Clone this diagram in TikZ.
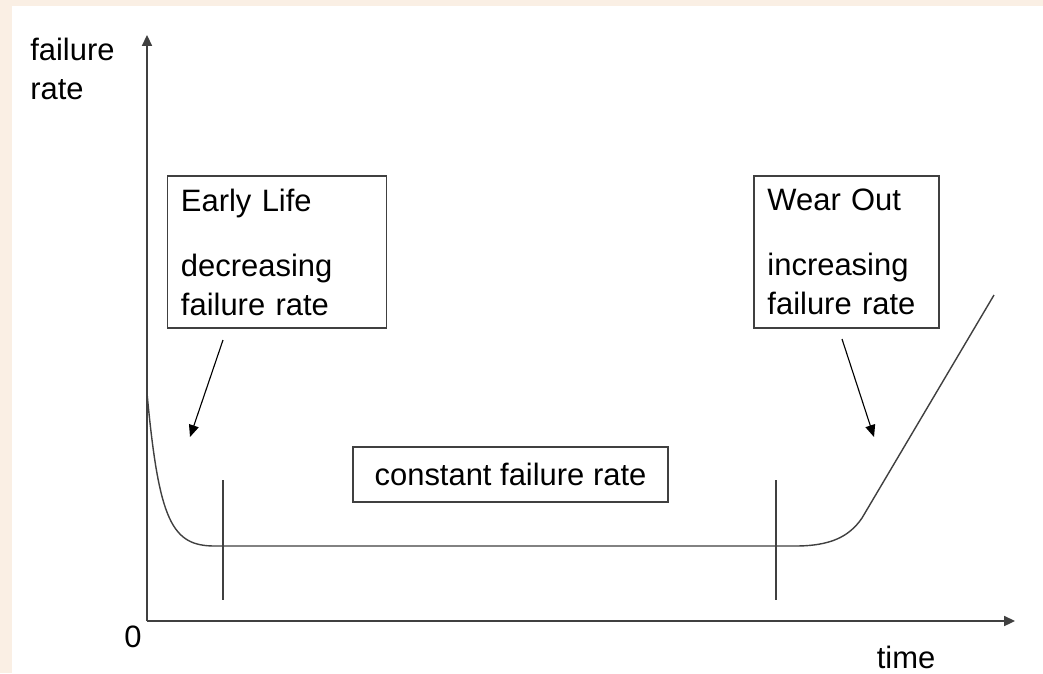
\documentclass[tikz,border=0pt]{standalone}
\usepackage{fontspec}
\setmainfont{Liberation Sans}
\usetikzlibrary{positioning,arrows.meta}
\definecolor{slidebg}{RGB}{250,239,228}
\definecolor{linegray}{RGB}{64,64,64}

\begin{document}
\begin{tikzpicture}[x=0.025cm, y=-0.025cm,
  lbl/.style={font=\fontsize{22}{27.7}\selectfont, inner sep=0pt},
  box/.style={draw=linegray, line width=0.8pt, lbl, align=left,
              inner xsep=0.33cm, minimum height=3.8cm},
  axis/.style={-{Triangle[length=0.27cm, width=0.25cm]}, line width=1pt, draw=linegray},
  arr/.style={-{Triangle[length=0.3cm, width=0.25cm]}, line width=0.8pt},
  curve/.style={line width=1pt, draw=linegray},
  divider/.style={line width=1pt, draw=linegray}]
\fill[slidebg] (0,0) rectangle (1043,673);
\fill[white] (12,6) rectangle (1043,673);
\useasboundingbox (0,0) rectangle (1043,673);
% axes
\coordinate (origin) at (147,621);
\coordinate (ytop) at (147,35);
\coordinate (xend) at (1015,621);
\draw[axis] (origin) -- (ytop);
\draw[axis] (origin) -- (xend);
\node[lbl, anchor=north west, align=left] (ylabel) at (30,38) {failure\\rate};
\node[lbl] (zero) at (133,637) {0};
\node[lbl, anchor=base] (xlabel) at (906,668) {time};
% bathtub curve
\draw[curve] (147,393) .. controls (159,522) and (172,546) .. (215,546) -- (795,546)
  .. controls (830,546) and (849,537) .. (862,518) -- (994,295);
\coordinate (d1top) at (223,480);
\coordinate (d1bot) at (223,600);
\coordinate (d2top) at (776,480);
\coordinate (d2bot) at (776,600);
\draw[divider] (d1top) -- (d1bot);
\draw[divider] (d2top) -- (d2bot);
% labels
\node[box, text width=4.8cm] (early) at (277,252)
  {Early Life\\[0.65cm]decreasing\\failure rate};
\node[box, text width=3.95cm, inner xsep=0.3375cm] (wear) at (846.5,252)
  {Wear Out\\[0.65cm]increasing\\failure rate};
\node[lbl, draw=linegray, line width=0.8pt, minimum width=7.875cm,
      minimum height=1.375cm] (const) at (510.5,474.5) {constant failure rate};
\coordinate (earlytail) at (223,340);
\coordinate (earlyhead) at (190,437);
\coordinate (weartail) at (842,339);
\coordinate (wearhead) at (874,437);
\draw[arr] (earlytail) -- (earlyhead);
\draw[arr] (weartail) -- (wearhead);
\end{tikzpicture}
\end{document}
